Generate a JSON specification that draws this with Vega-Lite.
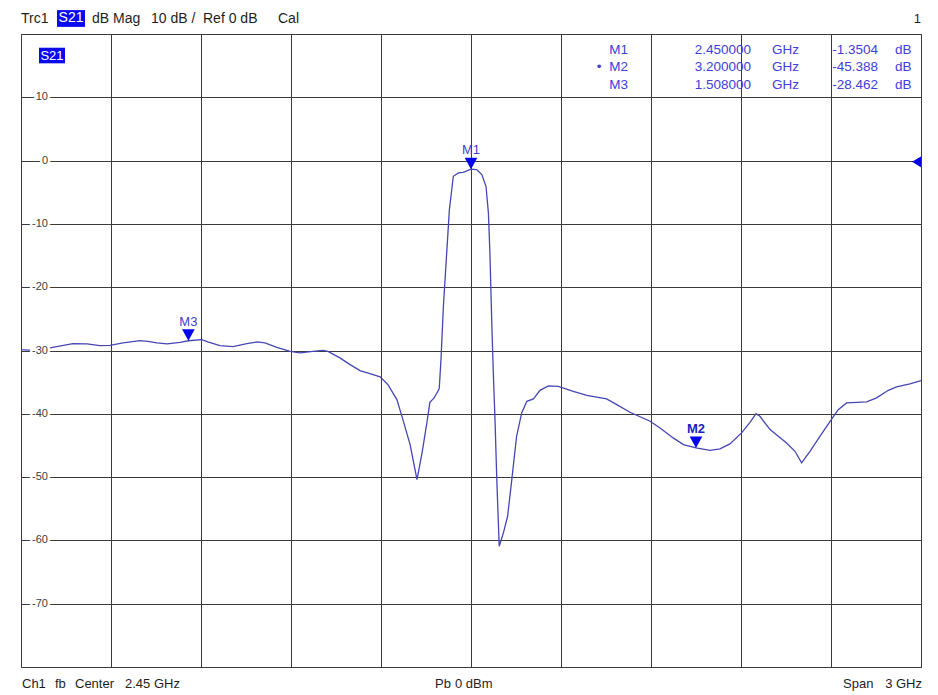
{
  "$schema": "https://vega.github.io/schema/vega-lite/v6.json",
  "width": 900,
  "height": 633,
  "autosize": {"type": "none"},
  "padding": {"left": 21, "top": 34, "right": 17, "bottom": 28},
  "background": "white",
  "config": {
    "view": {"stroke": "#707070", "strokeWidth": 1},
    "font": "Liberation Sans",
    "locale": {"number": {"decimal": ".", "thousands": ",", "grouping": [3], "currency": ["$", ""], "minus": "-"}}
  },
  "datasets": {
    "trace": [
      {"f": 0.950, "db": -29.86}, {"f": 0.990, "db": -29.97}, {"f": 1.047, "db": -29.60}, {"f": 1.123, "db": -28.90},
      {"f": 1.170, "db": -28.96}, {"f": 1.213, "db": -29.23}, {"f": 1.247, "db": -29.18}, {"f": 1.290, "db": -28.80},
      {"f": 1.347, "db": -28.44}, {"f": 1.373, "db": -28.55}, {"f": 1.403, "db": -28.80}, {"f": 1.437, "db": -28.96},
      {"f": 1.480, "db": -28.70}, {"f": 1.508, "db": -28.46}, {"f": 1.553, "db": -28.28}, {"f": 1.573, "db": -28.64},
      {"f": 1.613, "db": -29.23}, {"f": 1.657, "db": -29.38}, {"f": 1.703, "db": -28.91}, {"f": 1.737, "db": -28.64},
      {"f": 1.763, "db": -28.80}, {"f": 1.803, "db": -29.50}, {"f": 1.847, "db": -30.13}, {"f": 1.880, "db": -30.38},
      {"f": 1.923, "db": -30.13}, {"f": 1.957, "db": -29.97}, {"f": 1.973, "db": -30.13}, {"f": 2.013, "db": -31.17},
      {"f": 2.047, "db": -32.23}, {"f": 2.080, "db": -33.18}, {"f": 2.113, "db": -33.65}, {"f": 2.147, "db": -34.17},
      {"f": 2.173, "db": -35.39}, {"f": 2.203, "db": -37.76}, {"f": 2.223, "db": -40.92}, {"f": 2.247, "db": -44.87},
      {"f": 2.270, "db": -50.40}, {"f": 2.287, "db": -46.13}, {"f": 2.303, "db": -41.39}, {"f": 2.313, "db": -38.20},
      {"f": 2.327, "db": -37.50}, {"f": 2.344, "db": -36.07}, {"f": 2.350, "db": -31.40}, {"f": 2.358, "db": -23.02},
      {"f": 2.369, "db": -14.58}, {"f": 2.378, "db": -7.74}, {"f": 2.391, "db": -2.48}, {"f": 2.408, "db": -1.94},
      {"f": 2.424, "db": -1.85}, {"f": 2.450, "db": -1.35}, {"f": 2.469, "db": -1.42}, {"f": 2.486, "db": -2.21},
      {"f": 2.500, "db": -4.06}, {"f": 2.508, "db": -8.26}, {"f": 2.513, "db": -14.58}, {"f": 2.519, "db": -25.12},
      {"f": 2.524, "db": -33.02}, {"f": 2.530, "db": -40.92}, {"f": 2.536, "db": -50.39}, {"f": 2.544, "db": -60.93},
      {"f": 2.558, "db": -58.82}, {"f": 2.572, "db": -56.19}, {"f": 2.586, "db": -50.39}, {"f": 2.602, "db": -43.55},
      {"f": 2.619, "db": -39.86}, {"f": 2.636, "db": -38.03}, {"f": 2.658, "db": -37.65}, {"f": 2.680, "db": -36.29},
      {"f": 2.708, "db": -35.60}, {"f": 2.741, "db": -35.66}, {"f": 2.791, "db": -36.44}, {"f": 2.836, "db": -37.08},
      {"f": 2.902, "db": -37.65}, {"f": 2.936, "db": -38.55}, {"f": 2.980, "db": -39.76}, {"f": 3.047, "db": -41.18},
      {"f": 3.080, "db": -42.23}, {"f": 3.124, "db": -43.81}, {"f": 3.158, "db": -44.87}, {"f": 3.200, "db": -45.39},
      {"f": 3.247, "db": -45.77}, {"f": 3.280, "db": -45.55}, {"f": 3.313, "db": -44.76}, {"f": 3.352, "db": -43.02},
      {"f": 3.380, "db": -41.34}, {"f": 3.400, "db": -39.97}, {"f": 3.413, "db": -40.40}, {"f": 3.447, "db": -42.50},
      {"f": 3.502, "db": -44.60}, {"f": 3.530, "db": -45.92}, {"f": 3.552, "db": -47.76}, {"f": 3.580, "db": -45.92},
      {"f": 3.613, "db": -43.55}, {"f": 3.647, "db": -41.18}, {"f": 3.674, "db": -39.34}, {"f": 3.702, "db": -38.28},
      {"f": 3.736, "db": -38.18}, {"f": 3.769, "db": -38.12}, {"f": 3.802, "db": -37.49}, {"f": 3.841, "db": -36.29},
      {"f": 3.869, "db": -35.75}, {"f": 3.913, "db": -35.28}, {"f": 3.950, "db": -34.76}
    ],
    "markers": [
      {"m": "M1", "f": 2.45, "db": -1.3504},
      {"m": "M2", "f": 3.2, "db": -45.388},
      {"m": "M3", "f": 1.508, "db": -28.462}
    ],
    "yticks": [{"v": 10}, {"v": 0}, {"v": -10}, {"v": -20}, {"v": -30}, {"v": -40}, {"v": -50}, {"v": -60}, {"v": -70}]
  },
  "data": {"values": [{}]},
  "layer": [
    {
      "data": {"name": "trace"},
      "mark": {"type": "line", "color": "#4646b4", "strokeWidth": 1.3, "interpolate": "linear"},
      "encoding": {
        "x": {"field": "f", "type": "quantitative",
          "scale": {"domain": [0.95, 3.95], "nice": false, "zero": false},
          "axis": {"values": [0.95, 1.25, 1.55, 1.85, 2.15, 2.45, 2.75, 3.05, 3.35, 3.65, 3.95], "grid": true, "gridColor": "#3a3a3a", "gridOpacity": 1, "gridWidth": 1, "labels": false, "ticks": false, "domain": false, "title": null}},
        "y": {"field": "db", "type": "quantitative",
          "scale": {"domain": [-80, 20], "nice": false, "zero": false},
          "axis": {"values": [-80, -70, -60, -50, -40, -30, -20, -10, 0, 10, 20], "grid": true, "gridColor": "#3a3a3a", "gridOpacity": 1, "gridWidth": 1, "labels": false, "ticks": false, "domain": false, "title": null}}
      }
    },
    {
      "data": {"name": "yticks"},
      "mark": {"type": "text", "align": "right", "baseline": "middle", "dx": 27, "fontSize": 11, "fill": "white", "stroke": "white", "strokeWidth": 5},
      "encoding": {"x": {"datum": 0.95}, "y": {"field": "v", "type": "quantitative"}, "text": {"field": "v", "type": "nominal"}}
    },
    {
      "data": {"name": "yticks"},
      "mark": {"type": "text", "align": "right", "baseline": "middle", "dx": 27, "fontSize": 11, "color": "#404040"},
      "encoding": {"x": {"datum": 0.95}, "y": {"field": "v", "type": "quantitative"}, "text": {"field": "v", "type": "nominal"}}
    },
    {
      "data": {"name": "markers"},
      "mark": {"type": "point", "shape": "M-0.55,-1L0.55,-1L0,0Z", "size": 529, "filled": true, "color": "#0000ee", "opacity": 1},
      "encoding": {"x": {"field": "f", "type": "quantitative"}, "y": {"field": "db", "type": "quantitative"}}
    },
    {
      "data": {"name": "markers"},
      "transform": [{"filter": "datum.m != 'M2'"}],
      "mark": {"type": "text", "align": "center", "baseline": "alphabetic", "dy": -15, "fontSize": 13, "color": "#4040d0"},
      "encoding": {"x": {"field": "f", "type": "quantitative"}, "y": {"field": "db", "type": "quantitative"}, "text": {"field": "m"}}
    },
    {
      "data": {"name": "markers"},
      "transform": [{"filter": "datum.m == 'M2'"}],
      "mark": {"type": "text", "align": "center", "baseline": "alphabetic", "dy": -15, "fontSize": 13, "fontWeight": "bold", "color": "#1c1cc0"},
      "encoding": {"x": {"field": "f", "type": "quantitative"}, "y": {"field": "db", "type": "quantitative"}, "text": {"field": "m"}}
    },
    {
      "mark": {"type": "point", "shape": "M-1,0L0,-0.6L0,0.6Z", "size": 324, "filled": true, "color": "#0000ee", "opacity": 1},
      "encoding": {"x": {"datum": 3.95}, "y": {"datum": -0.2}}
    },
    {
      "mark": {"type": "point", "shape": "M-1,-0.6L1,-0.6L1,0.6L-1,0.6Z", "size": 784, "filled": true, "color": "#0a0af0", "opacity": 1},
      "encoding": {"x": {"datum": 1.1167}, "y": {"datum": 22.45}}
    },
    {
      "mark": {"type": "text", "align": "center", "baseline": "middle", "fontSize": 14, "color": "white"},
      "encoding": {"x": {"datum": 1.1167}, "y": {"datum": 22.45}, "text": {"value": "S21"}}
    },
    {
      "mark": {"type": "point", "shape": "M-1,-0.6L1,-0.6L1,0.6L-1,0.6Z", "size": 676, "filled": true, "color": "#0a0af0", "opacity": 1},
      "encoding": {"x": {"datum": 1.0533}, "y": {"datum": 16.6}}
    },
    {
      "mark": {"type": "text", "align": "center", "baseline": "middle", "fontSize": 13, "color": "white"},
      "encoding": {"x": {"datum": 1.0533}, "y": {"datum": 16.6}, "text": {"value": "S21"}}
    },
    {
      "mark": {"type": "text", "align": "left", "baseline": "middle", "fontSize": 14, "color": "#1e1e1e"},
      "encoding": {"x": {"datum": 0.95}, "y": {"datum": 22.37}, "text": {"value": "Trc1"}}
    },
    {
      "mark": {"type": "text", "align": "left", "baseline": "middle", "fontSize": 14, "color": "#1e1e1e"},
      "encoding": {"x": {"datum": 1.1867}, "y": {"datum": 22.37}, "text": {"value": "dB Mag"}}
    },
    {
      "mark": {"type": "text", "align": "left", "baseline": "middle", "fontSize": 14, "color": "#1e1e1e"},
      "encoding": {"x": {"datum": 1.3833}, "y": {"datum": 22.37}, "text": {"value": "10 dB /"}}
    },
    {
      "mark": {"type": "text", "align": "left", "baseline": "middle", "fontSize": 14, "color": "#1e1e1e"},
      "encoding": {"x": {"datum": 1.5567}, "y": {"datum": 22.37}, "text": {"value": "Ref 0 dB"}}
    },
    {
      "mark": {"type": "text", "align": "left", "baseline": "middle", "fontSize": 14, "color": "#1e1e1e"},
      "encoding": {"x": {"datum": 1.8067}, "y": {"datum": 22.37}, "text": {"value": "Cal"}}
    },
    {
      "mark": {"type": "text", "align": "right", "baseline": "middle", "fontSize": 13, "color": "#1e1e1e"},
      "encoding": {"x": {"datum": 3.95}, "y": {"datum": 22.37}, "text": {"value": "1"}}
    },
    {
      "mark": {"type": "text", "align": "left", "baseline": "middle", "fontSize": 13, "color": "#1e1e1e"},
      "encoding": {"x": {"datum": 0.9533}, "y": {"datum": -82.69}, "text": {"value": "Ch1"}}
    },
    {
      "mark": {"type": "text", "align": "left", "baseline": "middle", "fontSize": 13, "color": "#1e1e1e"},
      "encoding": {"x": {"datum": 1.0633}, "y": {"datum": -82.69}, "text": {"value": "fb"}}
    },
    {
      "mark": {"type": "text", "align": "left", "baseline": "middle", "fontSize": 13, "color": "#1e1e1e"},
      "encoding": {"x": {"datum": 1.13}, "y": {"datum": -82.69}, "text": {"value": "Center"}}
    },
    {
      "mark": {"type": "text", "align": "left", "baseline": "middle", "fontSize": 13, "color": "#1e1e1e"},
      "encoding": {"x": {"datum": 1.2967}, "y": {"datum": -82.69}, "text": {"value": "2.45 GHz"}}
    },
    {
      "mark": {"type": "text", "align": "left", "baseline": "middle", "fontSize": 13, "color": "#1e1e1e"},
      "encoding": {"x": {"datum": 2.33}, "y": {"datum": -82.69}, "text": {"value": "Pb"}}
    },
    {
      "mark": {"type": "text", "align": "left", "baseline": "middle", "fontSize": 13, "color": "#1e1e1e"},
      "encoding": {"x": {"datum": 2.3967}, "y": {"datum": -82.69}, "text": {"value": "0 dBm"}}
    },
    {
      "mark": {"type": "text", "align": "left", "baseline": "middle", "fontSize": 13, "color": "#1e1e1e"},
      "encoding": {"x": {"datum": 3.69}, "y": {"datum": -82.69}, "text": {"value": "Span"}}
    },
    {
      "mark": {"type": "text", "align": "right", "baseline": "middle", "fontSize": 13, "color": "#1e1e1e"},
      "encoding": {"x": {"datum": 3.9533}, "y": {"datum": -82.69}, "text": {"value": "3 GHz"}}
    },
    {
      "data": {"name": "markers"},
      "transform": [{"filter": "datum.m == 'M1'"}],
      "encoding": {"y": {"datum": 17.47}},
      "layer": [
        {"mark": {"type": "text", "align": "right", "baseline": "middle", "fontSize": 13.5, "color": "#4040d8"}, "encoding": {"x": {"datum": 2.9733}, "text": {"field": "m"}}},
        {"mark": {"type": "text", "align": "right", "baseline": "middle", "fontSize": 13.5, "color": "#4040d8"}, "encoding": {"x": {"datum": 3.3833}, "text": {"field": "f", "type": "quantitative", "format": ".6f"}}},
        {"mark": {"type": "text", "align": "left", "baseline": "middle", "fontSize": 13.5, "color": "#4040d8"}, "encoding": {"x": {"datum": 3.4533}, "text": {"value": "GHz"}}},
        {"mark": {"type": "text", "align": "right", "baseline": "middle", "fontSize": 13.5, "color": "#4040d8"}, "encoding": {"x": {"datum": 3.8067}, "text": {"field": "db", "type": "quantitative", "format": ".5g"}}},
        {"mark": {"type": "text", "align": "left", "baseline": "middle", "fontSize": 13.5, "color": "#4040d8"}, "encoding": {"x": {"datum": 3.8633}, "text": {"value": "dB"}}}
      ]
    },
    {
      "data": {"name": "markers"},
      "transform": [{"filter": "datum.m == 'M2'"}],
      "encoding": {"y": {"datum": 14.71}},
      "layer": [
        {"mark": {"type": "text", "align": "center", "baseline": "middle", "fontSize": 13.5, "color": "#4040d8"}, "encoding": {"x": {"datum": 2.8767}, "text": {"value": "•"}}},
        {"mark": {"type": "text", "align": "right", "baseline": "middle", "fontSize": 13.5, "color": "#4040d8"}, "encoding": {"x": {"datum": 2.9733}, "text": {"field": "m"}}},
        {"mark": {"type": "text", "align": "right", "baseline": "middle", "fontSize": 13.5, "color": "#4040d8"}, "encoding": {"x": {"datum": 3.3833}, "text": {"field": "f", "type": "quantitative", "format": ".6f"}}},
        {"mark": {"type": "text", "align": "left", "baseline": "middle", "fontSize": 13.5, "color": "#4040d8"}, "encoding": {"x": {"datum": 3.4533}, "text": {"value": "GHz"}}},
        {"mark": {"type": "text", "align": "right", "baseline": "middle", "fontSize": 13.5, "color": "#4040d8"}, "encoding": {"x": {"datum": 3.8067}, "text": {"field": "db", "type": "quantitative", "format": ".5g"}}},
        {"mark": {"type": "text", "align": "left", "baseline": "middle", "fontSize": 13.5, "color": "#4040d8"}, "encoding": {"x": {"datum": 3.8633}, "text": {"value": "dB"}}}
      ]
    },
    {
      "data": {"name": "markers"},
      "transform": [{"filter": "datum.m == 'M3'"}],
      "encoding": {"y": {"datum": 11.94}},
      "layer": [
        {"mark": {"type": "text", "align": "right", "baseline": "middle", "fontSize": 13.5, "color": "#4040d8"}, "encoding": {"x": {"datum": 2.9733}, "text": {"field": "m"}}},
        {"mark": {"type": "text", "align": "right", "baseline": "middle", "fontSize": 13.5, "color": "#4040d8"}, "encoding": {"x": {"datum": 3.3833}, "text": {"field": "f", "type": "quantitative", "format": ".6f"}}},
        {"mark": {"type": "text", "align": "left", "baseline": "middle", "fontSize": 13.5, "color": "#4040d8"}, "encoding": {"x": {"datum": 3.4533}, "text": {"value": "GHz"}}},
        {"mark": {"type": "text", "align": "right", "baseline": "middle", "fontSize": 13.5, "color": "#4040d8"}, "encoding": {"x": {"datum": 3.8067}, "text": {"field": "db", "type": "quantitative", "format": ".5g"}}},
        {"mark": {"type": "text", "align": "left", "baseline": "middle", "fontSize": 13.5, "color": "#4040d8"}, "encoding": {"x": {"datum": 3.8633}, "text": {"value": "dB"}}}
      ]
    }
  ]
}
